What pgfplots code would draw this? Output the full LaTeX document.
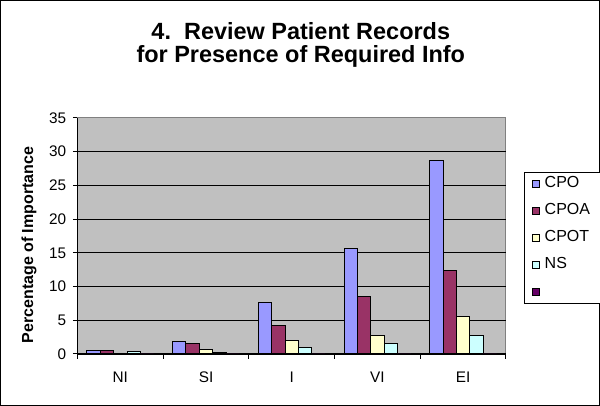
\documentclass[border=0pt]{standalone}
\usepackage{pgfplots}
\pgfplotsset{compat=1.18}
\usepackage{fontspec}
\setmainfont{Liberation Sans}
\definecolor{c1}{HTML}{9999FF}
\definecolor{c2}{HTML}{993366}
\definecolor{c3}{HTML}{FFFFCC}
\definecolor{c4}{HTML}{CCFFFF}
\definecolor{c5}{HTML}{660066}
\definecolor{bgc}{HTML}{C0C0C0}
\definecolor{brd}{HTML}{808080}
\pgfplotsset{lg/.style={legend image code/.code={\draw[##1,line width=0.75pt] (0pt,-2.7pt) rectangle (5.4pt,2.7pt);}},
  lgfive/.style={legend image code/.code={\draw[##1,draw=black,fill=c5,line width=0.75pt] (0pt,-2.7pt) rectangle (5.4pt,2.7pt);}}}
\begin{document}
\begin{tikzpicture}[x=1pt,y=1pt]
\useasboundingbox (0,0) rectangle (450,304.5);
\fill[white] (0,0) rectangle (450,304.5);
\draw[black, line width=0.75pt] (0.375,0.375) rectangle (449.625,304.125);
\node[anchor=base, font=\bfseries\fontsize{17.6}{20}\selectfont, inner sep=0pt] at (225.6,274.5) {4.\ \ Review Patient Records};
\node[anchor=base, font=\bfseries\fontsize{17.6}{20}\selectfont, inner sep=0pt] at (225.6,257.5) {for Presence of Required Info};
\node[rotate=90, font=\bfseries\fontsize{12}{14}\selectfont, inner sep=0pt] at (21.8,120.75) {Percentage of Importance};
\begin{axis}[
  at={(58.1pt,39pt)}, anchor=south west,
  scale only axis, width=321.4pt, height=177pt,
  ybar=0pt, bar width=0.156,
  xmin=-0.5, xmax=4.5, ymin=0, ymax=35,
  xtick={0,1,2,3,4}, xticklabels={NI,SI,I,VI,EI},
  minor xtick={-0.5,0.5,1.5,2.5,3.5,4.5},
  major x tick style={draw=none},
  ytick={0,5,...,30}, extra y ticks={35}, extra y tick style={grid=none},
  ymajorgrids, major grid style={black, line width=0.6pt},
  tick align=outside, major tick length=3.4pt, minor tick length=3.4pt,
  tick style={black, line width=0.75pt},
  axis x line*=bottom, axis y line*=left,
  axis line style={black, line width=0.75pt, -},
  axis background/.style={fill=bgc, draw=brd, line width=0.75pt},
  ticklabel style={font=\fontsize{11.5}{13}\selectfont},
  xticklabel style={yshift=-6.2pt},
  yticklabel style={xshift=-1.5pt},
  /pgf/number format/assume math mode=true,
  legend cell align=left,
  legend style={at={(1,1)}, anchor=north west, xshift=13.5pt, yshift=-40.5pt,
    draw=black, fill=white, line width=0.75pt, inner xsep=5.5pt, inner ysep=3.9pt,
    row sep=10.8pt, column sep=3.5pt, font=\fontsize{12}{14}\selectfont,
    nodes={inner sep=0pt, text height=7.5pt, text depth=2pt, text width=36pt, anchor=west}},
]
\addplot[fill=c1, draw=black, line width=0.75pt, lg] coordinates {(0,0.5) (1,1.8) (2,7.7) (3,15.7) (4,28.7)};
\addplot[fill=c2, draw=black, line width=0.75pt, lg] coordinates {(0,0.55) (1,1.6) (2,4.3) (3,8.6) (4,12.4)};
\addplot[fill=c3, draw=black, line width=0.75pt, lg] coordinates {(0,0.1) (1,0.7) (2,2.0) (3,2.7) (4,5.5)};
\addplot[fill=c4, draw=black, line width=0.75pt, lg] coordinates {(0,0.3) (1,0.15) (2,0.9) (3,1.6) (4,2.7)};
\addplot[fill=c5, draw=none, lgfive] coordinates {(0,0) (1,0) (2,0) (3,0) (4,0)};
\legend{CPO,CPOA,CPOT,NS,\strut}
\end{axis}
\end{tikzpicture}
\end{document}
